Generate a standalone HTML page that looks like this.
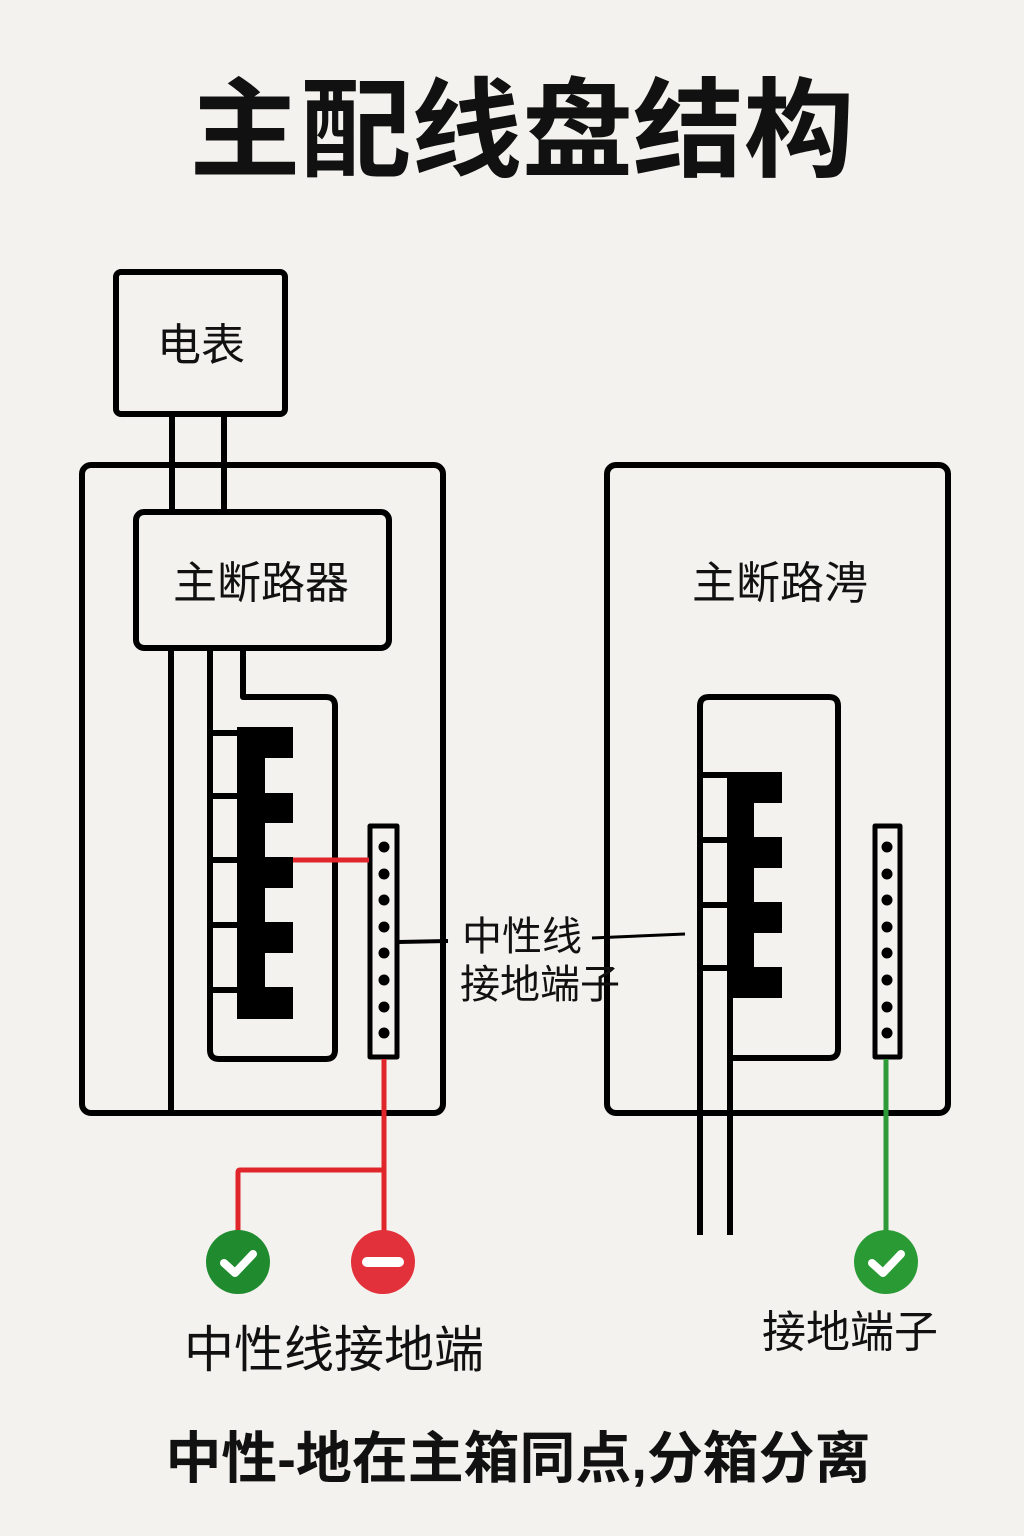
<!DOCTYPE html>
<html><head><meta charset="utf-8"><style>
html,body{margin:0;padding:0;background:#f3f2ee;}
svg{display:block}
text{font-family:"Liberation Sans","Noto Sans CJK SC",sans-serif;fill:#111}
</style></head><body>
<svg width="1024" height="1536" viewBox="0 0 1024 1536" xmlns="http://www.w3.org/2000/svg">
<rect width="1024" height="1536" fill="#f3f2ee"/>
<text x="522" y="168" font-size="108" font-weight="bold" text-anchor="middle" textLength="665" lengthAdjust="spacingAndGlyphs">主配线盘结构</text>

<g fill="none" stroke="#000" stroke-width="6" stroke-linejoin="round">
<rect x="116" y="272" width="169" height="142" rx="5"/>
<line x1="172" y1="414" x2="172" y2="512"/>
<line x1="224" y1="414" x2="224" y2="512"/>
<rect x="82" y="465" width="361" height="648" rx="9"/>
<rect x="136" y="512" width="253" height="136" rx="8"/>
<line x1="171" y1="648" x2="171" y2="1113"/>
<path d="M243 648 V697 H326 Q335 697 335 706 V1050 Q335 1059 326 1059 H219 Q210 1059 210 1050 V648"/>
<line x1="210" y1="733" x2="240" y2="733"/>
<line x1="210" y1="796" x2="240" y2="796"/>
<line x1="210" y1="860" x2="240" y2="860"/>
<line x1="210" y1="925" x2="240" y2="925"/>
<line x1="210" y1="990" x2="240" y2="990"/>
<rect x="370" y="826" width="27" height="231" stroke-width="5"/>
<path d="M398 942 L448 941" stroke-width="4"/>
<path d="M592 938 L685 934" stroke-width="3"/>
<rect x="607" y="465" width="341" height="648" rx="9"/>
<path d="M700 1235 V706 Q700 697 709 697 H829 Q838 697 838 706 V1049 Q838 1058 829 1058 H730"/>
<line x1="730" y1="998" x2="730" y2="1235"/>
<line x1="700" y1="775" x2="728" y2="775"/>
<line x1="700" y1="840" x2="728" y2="840"/>
<line x1="700" y1="905" x2="728" y2="905"/>
<line x1="700" y1="968" x2="728" y2="968"/>
<rect x="875" y="826" width="25" height="231" stroke-width="5"/>
</g>
<g fill="#000">
<path d="M237 727 H293 V758 H265 V793 H293 V823 H265 V857 H293 V888 H265 V922 H293 V953 H265 V987 H293 V1019 H237 Z"/>
<path d="M727 772 H782 V803 H754 V837 H782 V868 H754 V902 H782 V933 H754 V967 H782 V998 H727 Z"/>
<g id="d1">
<circle cx="384" cy="847" r="5.5"/><circle cx="384" cy="874" r="5.5"/><circle cx="384" cy="900" r="5.5"/><circle cx="384" cy="927" r="5.5"/><circle cx="384" cy="953" r="5.5"/><circle cx="384" cy="980" r="5.5"/><circle cx="384" cy="1007" r="5.5"/><circle cx="384" cy="1033" r="5.5"/>
</g>
<use href="#d1" x="503"/>
</g>
<g fill="none" stroke-width="5">
<line x1="293" y1="860" x2="369" y2="860" stroke="#e0262b"/>
<path d="M384 1059 V1235" stroke="#e0262b"/>
<path d="M384 1170 H240 Q238 1170 238 1172 V1235" stroke="#e0262b"/>
<line x1="886" y1="1059" x2="886" y2="1235" stroke="#2e9a38"/>
</g>
<circle cx="238" cy="1262" r="32" fill="#1f8a2e"/>
<path d="M224 1263 L235 1273 L253 1254" fill="none" stroke="#fff" stroke-width="8" stroke-linecap="round" stroke-linejoin="round"/>
<circle cx="383" cy="1262" r="32" fill="#e2313a"/>
<rect x="362" y="1257" width="42" height="10" rx="5" fill="#fff"/>
<circle cx="886" cy="1262" r="32" fill="#2a9a35"/>
<path d="M872 1263 L883 1273 L901 1254" fill="none" stroke="#fff" stroke-width="8" stroke-linecap="round" stroke-linejoin="round"/>

<text x="201" y="360" font-size="44" text-anchor="middle">电表</text>
<text x="261" y="598" font-size="44" text-anchor="middle">主断路器</text>
<text x="780" y="598" font-size="44" text-anchor="middle">主断路涄</text>
<text x="462" y="950" font-size="40">中性线</text>
<text x="460" y="998" font-size="40">接地端子</text>
<text x="334" y="1367" font-size="50" text-anchor="middle">中性线接地端</text>
<text x="850" y="1347" font-size="44" text-anchor="middle">接地端子</text>
<text x="518" y="1478" font-size="56" font-weight="bold" text-anchor="middle" textLength="705" lengthAdjust="spacingAndGlyphs">中性-地在主箱同点,分箱分离</text>
</svg>
</body></html>
